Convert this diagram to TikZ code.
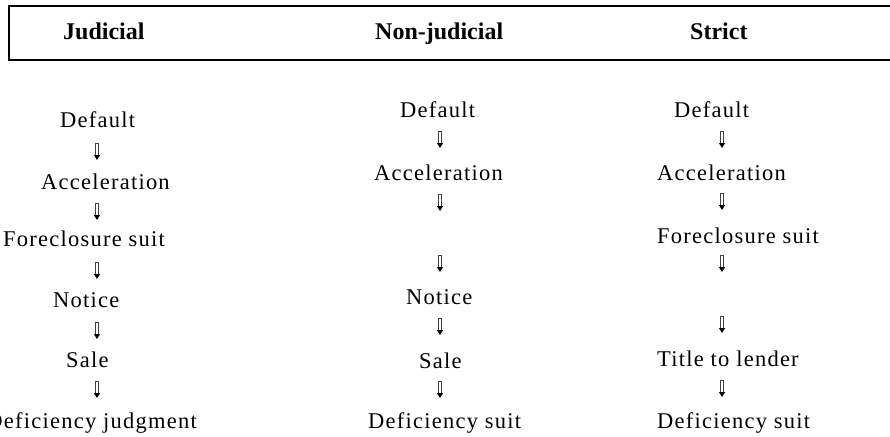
\documentclass[tikz,border=0pt]{standalone}
\usepackage{fontspec}
\setmainfont{Liberation Serif}
\newfontfamily\bodyfont[LetterSpace=5.5]{Liberation Serif}
\begin{document}
\begin{tikzpicture}[x=1pt,y=-1pt,
  head/.style={anchor=base west,inner sep=0pt,font=\fontsize{24}{28}\selectfont\bfseries},
  bodyw/.style={anchor=base west,inner sep=0pt,font=\bodyfont\fontsize{22.5}{26}\selectfont},
  bodye/.style={anchor=base east,inner sep=0pt,font=\bodyfont\fontsize{22.5}{26}\selectfont},
  darr/.pic={
    \draw[line width=0.55pt,black!75] (-1.3,-9) -- (-1.3,3.5) (1.3,-9) -- (1.3,3.5);
    \draw[line width=0.55pt,black!75] (-1.3,-9) -- (1.3,-9);
    \fill[black] (-3,3.2) -- (3,3.2) -- (0,8) -- cycle;
  }]
\useasboundingbox (0,0) rectangle (890,436);
\fill[white] (0,0) rectangle (890,436);
% header box
\draw[line width=2pt] (892,6) -- (9,6) -- (9,60) -- (892,60);
\node[head] (h1) at (63,40) {Judicial};
\node[head] (h2) at (375,40) {Non-judicial};
\node[head] (h3) at (690,40) {Strict};
% judicial
\node[bodyw] (j1) at (60,127) {Default};
\node[bodyw] (j2) at (41,189) {Acceleration};
\node[bodyw] (j3) at (3,246) {Foreclosure suit};
\node[bodyw] (j4) at (53,307) {Notice};
\node[bodyw] (j5) at (66,367) {Sale};
\node[bodye] (j6) at (197,428) {Deficiency judgment};
\foreach \y in {152,212,271,331,390} \pic at (97,\y) {darr};
% non-judicial
\node[bodyw] (n1) at (400,117) {Default};
\node[bodyw] (n2) at (374,180) {Acceleration};
\node[bodyw] (n3) at (406,304) {Notice};
\node[bodyw] (n4) at (419,368) {Sale};
\node[bodyw] (n5) at (368,428) {Deficiency suit};
\foreach \y in {140,203,264,327,390} \pic at (440,\y) {darr};
% strict
\node[bodyw] (s1) at (674,117) {Default};
\node[bodyw] (s2) at (657,180) {Acceleration};
\node[bodyw] (s3) at (657,243) {Foreclosure suit};
\node[bodyw] (s4) at (657,366) {Title to lender};
\node[bodyw] (s5) at (657,428) {Deficiency suit};
\foreach \y in {140,202,264,325,389} \pic at (722,\y) {darr};
\end{tikzpicture}
\end{document}
